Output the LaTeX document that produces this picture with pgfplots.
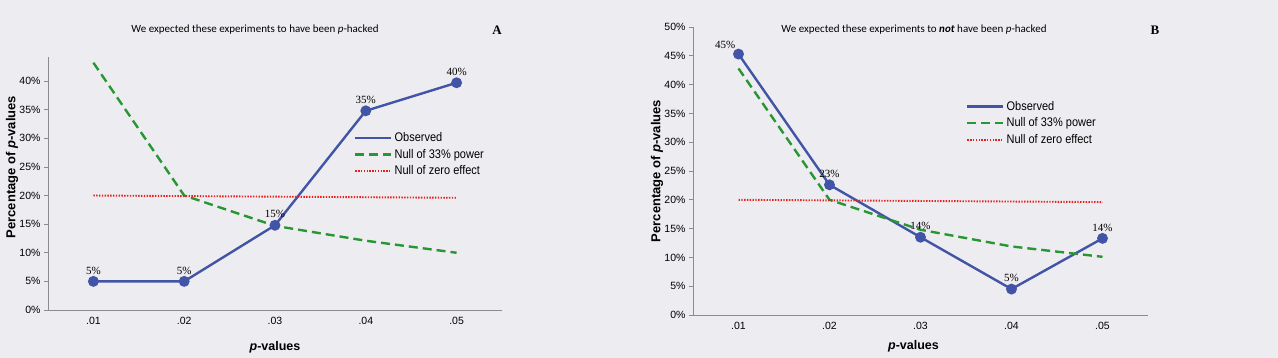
\documentclass[border=0pt]{standalone}
\usepackage{pgfplots}
\pgfplotsset{compat=1.18}
\usepackage{fontspec}
\setmainfont{Liberation Sans}
\newfontfamily\calibri{Carlito}
\newfontfamily\serifl{Liberation Serif}
\newfontfamily\narrow[FakeStretch=0.88]{Liberation Sans}
\definecolor{obs}{RGB}{66,84,165}
\definecolor{pow}{RGB}{40,150,50}
\definecolor{zer}{RGB}{235,30,30}
\definecolor{bg}{RGB}{237,237,241}
\definecolor{axc}{RGB}{140,140,140}

\tikzset{dl/.style={font=\serifl\fontsize{11}{12}\selectfont, anchor=south, inner sep=1pt}}
\pgfplotsset{
 panel/.style={
  scale only axis, clip=false,
  axis x line*=bottom, axis y line*=left,
  axis line style={axc, line width=0.8pt, -},
  xmin=0.5, xmax=5.5, ymin=0,
  xtick={1,2,3,4,5}, xticklabels={.01,.02,.03,.04,.05},
  ytick distance=5,
  yticklabel={\pgfmathprintnumber{\tick}\%},
  ytick style={axc, line width=0.6pt},
  xtick style={draw=none},
  major tick length=4pt,
  tick align=outside,
  ticklabel style={font=\fontsize{10.5}{12}\selectfont},
  /pgf/number format/assume math mode=true,
  legend style={draw=none, fill=none, font=\narrow\fontsize{12.5}{16}\selectfont, anchor=north west, inner sep=0pt, row sep=2pt},
  legend cell align=left,
  legend image code/.code={\draw[##1] (0pt,0pt) -- (36pt,0pt);},
 },
 obsl/.style={obs, line width=2.4pt, mark=*, mark size=4.2pt, mark options={solid}},
 powl/.style={pow, line width=2.4pt, dash pattern=on 9pt off 5pt},
 zerl/.style={zer, line width=1.9pt, dash pattern=on 1.4pt off 1.4pt},
}

\begin{document}
\begin{tikzpicture}
\fill[bg] (0pt,0pt) rectangle (1278pt,358pt);
\path[use as bounding box] (0pt,0pt) rectangle (1278pt,358pt);

% Panel A
\begin{axis}[panel, at={(48pt,48pt)}, anchor=south west, width=454pt, height=253pt, ymax=44.2,
  legend style={at={(0.674,0.71)}}]
\addplot[obsl] coordinates {(1,5) (2,5) (3,14.8) (4,34.8) (5,39.7)};
\addlegendentry{Observed}
\addplot[powl] coordinates {(1,43.2) (2,20) (3,14.7) (4,12.1) (5,10)};
\addlegendentry{Null of 33\% power}
\addplot[zerl] coordinates {(1,20) (2,19.9) (3,19.8) (4,19.7) (5,19.6)};
\addlegendentry{Null of zero effect}
\node[dl] at (axis cs:1,5) [yshift=6pt] {5\%};
\node[dl] at (axis cs:2,5) [yshift=6pt] {5\%};
\node[dl] at (axis cs:3,14.8) [yshift=6pt] {15\%};
\node[dl] at (axis cs:4,34.8) [yshift=6pt] {35\%};
\node[dl] at (axis cs:5,39.7) [yshift=6pt] {40\%};
\node[rotate=90, font=\bfseries\fontsize{13}{15}\selectfont] at (rel axis cs:-0.079,0.565) {Percentage of \textit{p}-values};
\node[font=\bfseries\fontsize{12.5}{14}\selectfont] at (rel axis cs:0.5,0) [yshift=-37pt] {\textit{p}-values};
\end{axis}

% Panel B
\begin{axis}[panel, at={(693pt,43pt)}, anchor=south west, width=455pt, height=288pt, ymax=50,
  legend style={at={(0.60,0.75)}}]
\addplot[obsl] coordinates {(1,45.3) (2,22.6) (3,13.5) (4,4.5) (5,13.3)};
\addlegendentry{Observed}
\addplot[powl] coordinates {(1,42.8) (2,20) (3,14.8) (4,11.9) (5,10.1)};
\addlegendentry{Null of 33\% power}
\addplot[zerl] coordinates {(1,20) (2,19.9) (3,19.8) (4,19.7) (5,19.6)};
\addlegendentry{Null of zero effect}
\node[dl, anchor=south east] at (axis cs:1,45.3) [yshift=4pt, xshift=-2pt] {45\%};
\node[dl] at (axis cs:2,22.6) [yshift=6pt] {23\%};
\node[dl] at (axis cs:3,13.5) [yshift=6pt] {14\%};
\node[dl] at (axis cs:4,4.5) [yshift=6pt] {5\%};
\node[dl] at (axis cs:5,13.3) [yshift=6pt] {14\%};
\node[rotate=90, font=\bfseries\fontsize{13}{15}\selectfont] at (rel axis cs:-0.079,0.50) {Percentage of \textit{p}-values};
\node[font=\bfseries\fontsize{12.5}{14}\selectfont] at (rel axis cs:0.5,0) [yshift=-31pt, xshift=-7pt] {\textit{p}-values};
\end{axis}

\node[font=\calibri\fontsize{11}{13}\selectfont] at (255pt,328pt) {We expected these experiments to have been \textit{p}-hacked};
\node[font=\serifl\bfseries\fontsize{13}{15}\selectfont] at (497pt,328pt) {A};
\node[font=\calibri\fontsize{11}{13}\selectfont] at (914pt,328pt) {We expected these experiments to \textbf{\textit{not}} have been \textit{p}-hacked};
\node[font=\serifl\bfseries\fontsize{13}{15}\selectfont] at (1155pt,328pt) {B};
\end{tikzpicture}
\end{document}
